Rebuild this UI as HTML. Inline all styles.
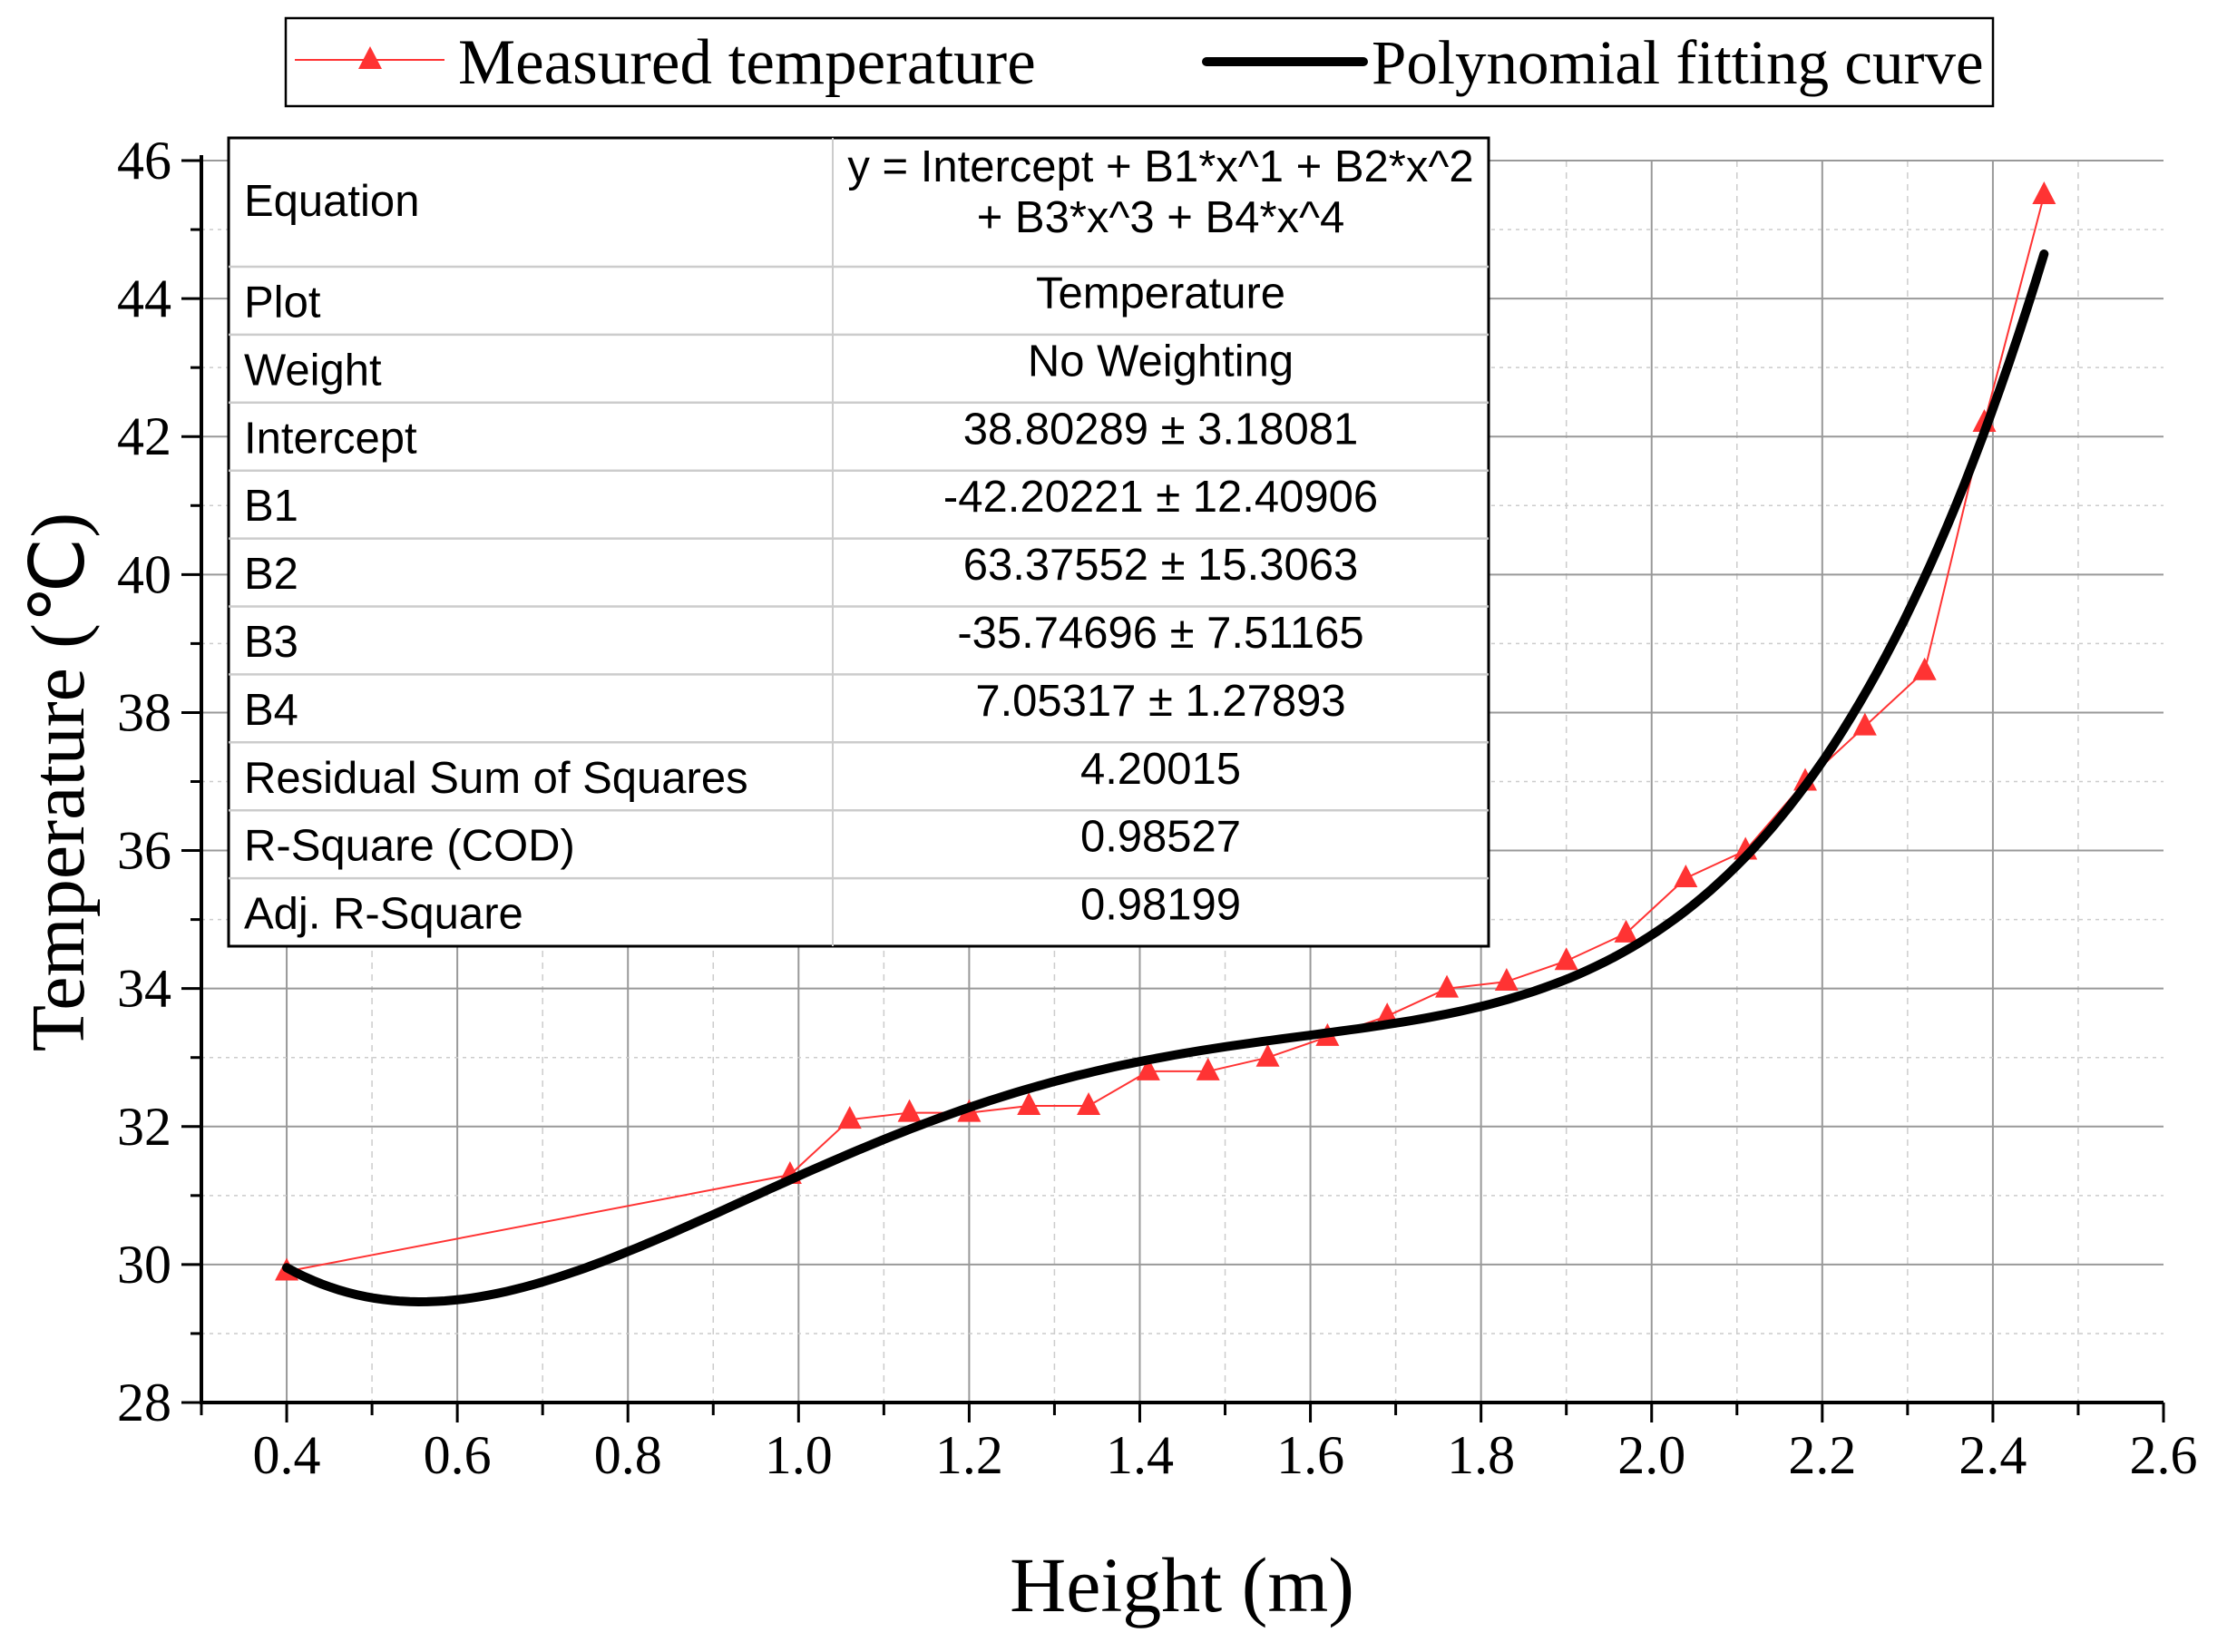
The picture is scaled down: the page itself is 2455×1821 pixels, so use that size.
<!DOCTYPE html>
<html><head><meta charset="utf-8"><style>
html,body{margin:0;padding:0;background:#fff;}
svg{display:block;}
.serif{font-family:"Liberation Serif",serif;}
.sans{font-family:"Liberation Sans",sans-serif;}
</style></head><body>
<svg id="chart" width="2455" height="1821" viewBox="0 0 2455 1821" xmlns="http://www.w3.org/2000/svg">
<rect width="2455" height="1821" fill="#fff"/>
<g id="grid"></g>
<g id="marks"></g>
<g id="axes"></g>
<g id="table"></g>
<g id="legend"></g>
<text class="serif" x="1303" y="1776" font-size="86" text-anchor="middle">Height (m)</text>
<text class="serif" x="0" y="0" font-size="84" text-anchor="middle" transform="translate(92,862) rotate(-90)">Temperature (℃)</text>
</svg>
<script>
const heights = [0.4,0.99,1.06,1.13,1.2,1.27,1.34,1.41,1.48,1.55,1.62,1.69,1.76,1.83,1.9,1.97,2.04,2.11,2.18,2.25,2.32,2.39,2.46];
const temps = [29.9,31.3,32.1,32.2,32.2,32.3,32.3,32.8,32.8,33.0,33.3,33.6,34.0,34.1,34.4,34.8,35.6,36.0,37.0,37.8,38.6,42.2,45.5];
const fitCoef = [38.80289,-42.20221,63.37552,-35.74696,7.05317];
const xTicks = [0.4,0.6,0.8,1.0,1.2,1.4,1.6,1.8,2.0,2.2,2.4,2.6];
const yTicks = [28,30,32,34,36,38,40,42,44,46];
const tableLabels = ["Plot","Weight","Intercept","B1","B2","B3","B4","Residual Sum of Squares","R-Square (COD)","Adj. R-Square"];
const tableValues = ["Temperature","No Weighting","38.80289 ± 3.18081","-42.20221 ± 12.40906","63.37552 ± 15.3063","-35.74696 ± 7.51165","7.05317 ± 1.27893","4.20015","0.98527","0.98199"];

const NS="http://www.w3.org/2000/svg";
const L=222,R=2385,T=177,B=1546,X0=0.3,X1=2.6,Y0=28,Y1=46;
const sx=v=>L+(v-X0)/(X1-X0)*(R-L);
const sy=v=>B-(v-Y0)/(Y1-Y0)*(B-T);
function mk(tag,attrs,parent){const e=document.createElementNS(NS,tag);for(const k in attrs)e.setAttribute(k,attrs[k]);parent.appendChild(e);return e;}
const grid=document.getElementById('grid'),marks=document.getElementById('marks'),axes=document.getElementById('axes'),table=document.getElementById('table'),legend=document.getElementById('legend');

for(let v=0.4;v<=2.55;v+=0.1){
  const major=Math.round(v*10)%2===0;
  const g=mk('line',{x1:sx(v),x2:sx(v),y1:T,y2:B,stroke:major?'#999':'#ccc','stroke-width':major?2:1.5,'stroke-dasharray':major?'':'7 6'},grid);
  
  
}
for(let v=29;v<=46;v+=1){
  const major=v%2===0;
  const g=mk('line',{x1:L,x2:R,y1:sy(v),y2:sy(v),stroke:major?'#999':'#ccc','stroke-width':major?2:1.5,'stroke-dasharray':major?'':'4 5'},grid);
  
  
}

let a=mk('line',{x1:L,x2:R,y1:B,y2:B,stroke:'#000','stroke-width':4},axes);


a=mk('line',{x1:L,x2:L,y1:T-6,y2:B+2,stroke:'#000','stroke-width':4},axes);


for(let v=0.3;v<=2.61;v+=0.1){
  const major=Math.round(v*10)%2===0;
  mk('line',{x1:sx(v),x2:sx(v),y1:B,y2:B+(major?22:14),stroke:'#000','stroke-width':3},axes);
}
xTicks.forEach(v=>{
  const t=mk('text',{x:sx(v),y:B+78,'font-size':60,'text-anchor':'middle',class:'serif'},axes);
  t.textContent=v.toFixed(1);
  
  
});
for(let v=28;v<=46;v+=1){
  const major=v%2===0;
  mk('line',{x1:L,x2:L-(major?22:12),y1:sy(v),y2:sy(v),stroke:'#000','stroke-width':3},axes);
}
yTicks.forEach(v=>{
  const t=mk('text',{x:L-33,y:sy(v)+20,'font-size':60,'text-anchor':'end',class:'serif'},axes);
  t.textContent=String(v);
  
  
});

const pts=heights.map((h,i)=>sx(h)+','+sy(temps[i])).join(' ');
const pl=mk('polyline',{points:pts,fill:'none',stroke:'#ff3333','stroke-width':2},marks);


heights.forEach((h,i)=>{
  const x=sx(h),y=sy(temps[i]);
  const p=mk('polygon',{points:`${x},${y-15} ${x-13},${y+10} ${x+13},${y+10}`,fill:'#ff3333'},marks);
  
  
});
const poly=x=>fitCoef.reduce((s,c,k)=>s+c*Math.pow(x,k),0);
let d='';
for(let i=0;i<=200;i++){const x=heights[0]+(heights[heights.length-1]-heights[0])*i/200;d+=(i?'L':'M')+sx(x).toFixed(1)+','+sy(poly(x)).toFixed(1);}
const fc=mk('path',{d:d,fill:'none',stroke:'#000','stroke-width':10,'stroke-linecap':'round'},marks);



const TL=252,TR=1641,TC=918,TT=152,EQB=294,RH=74.9;
const tb=mk('rect',{x:TL,y:TT,width:TR-TL,height:EQB+RH*10-TT,fill:'#fff',stroke:'#000','stroke-width':3},table);


mk('line',{x1:TC,x2:TC,y1:TT,y2:EQB+RH*10,stroke:'#ccc','stroke-width':2},table);
for(let i=0;i<10;i++){mk('line',{x1:TL,x2:TR,y1:EQB+RH*i,y2:EQB+RH*i,stroke:'#ccc','stroke-width':2.5},table);}
let t=mk('text',{x:TL+17,y:238,'font-size':49,class:'sans'},table);t.textContent='Equation';


t=mk('text',{x:(TC+TR)/2,y:200,'font-size':49,'text-anchor':'middle',class:'sans'},table);t.textContent='y = Intercept + B1*x^1 + B2*x^2';


t=mk('text',{x:(TC+TR)/2,y:256,'font-size':49,'text-anchor':'middle',class:'sans'},table);t.textContent='+ B3*x^3 + B4*x^4';


tableLabels.forEach((lab,i)=>{
  const y=EQB+RH*i;
  const a=mk('text',{x:TL+17,y:y+RH/2+18,'font-size':49,class:'sans'},table);a.textContent=lab;
  
  
  const b=mk('text',{x:(TC+TR)/2,y:y+RH/2+8,'font-size':49,'text-anchor':'middle',class:'sans'},table);b.textContent=tableValues[i];
  
  
});

const lf=mk('rect',{x:315,y:20,width:1882,height:97,fill:'#fff',stroke:'#000','stroke-width':2.5},legend);


mk('line',{x1:325,x2:490,y1:66,y2:66,stroke:'#ff3333','stroke-width':2},legend);
mk('polygon',{points:'408,51 395,76 421,76',fill:'#ff3333'},legend);
t=mk('text',{x:505,y:92,'font-size':71,class:'serif'},legend);t.textContent='Measured temperature';


mk('line',{x1:1330,x2:1503,y1:68,y2:68,stroke:'#000','stroke-width':10,'stroke-linecap':'round'},legend);
t=mk('text',{x:1512,y:92,'font-size':69,class:'serif'},legend);t.textContent='Polynomial fitting curve';


</script>
</body></html>
